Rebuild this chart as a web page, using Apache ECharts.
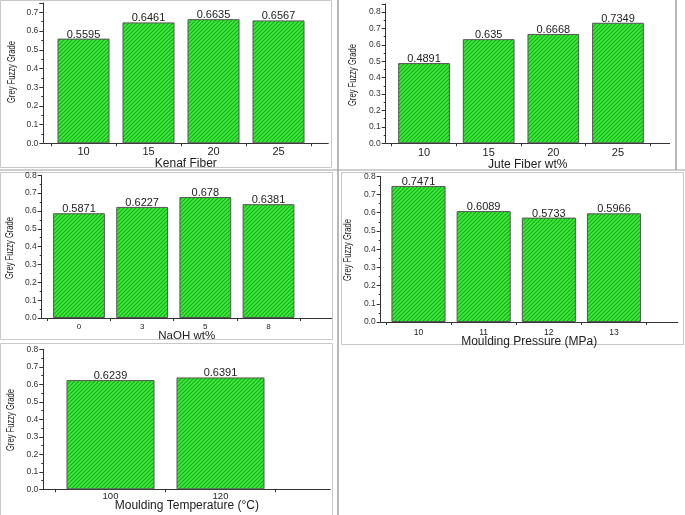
<!DOCTYPE html>
<html><head><meta charset="utf-8">
<script src="https://cdn.jsdelivr.net/npm/echarts@6/dist/echarts.min.js"></script>
<style>html,body{margin:0;padding:0;background:#fff}#c{width:685px;height:515px}</style>
</head><body><div id="c"></div>
<script>
// ---- data ----
const kenafCats = ['10', '15', '20', '25'];
const kenafVals = [0.5595, 0.6461, 0.6635, 0.6567];
const juteCats = ['10', '15', '20', '25'];
const juteVals = [0.4891, 0.635, 0.6668, 0.7349];
const naohCats = ['0', '3', '5', '8'];
const naohVals = [0.5871, 0.6227, 0.678, 0.6381];
const pressureCats = ['10', '11', '12', '13'];
const pressureVals = [0.7471, 0.6089, 0.5733, 0.5966];
const tempCats = ['100', '120'];
const tempVals = [0.6239, 0.6391];
const yTitle = 'Grey Fuzzy Grade';
const xTitles = ['Kenaf Fiber', 'Jute Fiber wt%', 'NaOH wt%', 'Moulding Pressure (MPa)', 'Moulding Temperature (\u00B0C)'];
const yMaxes = [0.75, 0.85, 0.8, 0.8, 0.8];

// ---- layout (px) ----
const panels = [
  {cats: kenafCats, vals: kenafVals, fl: 43.3, fb: 143.3, fw: 285, unit: 187.1, bl: 51, bw: 260, gap: '20%', xl: 11, xm: 3, ng: 14, tf: 12, yx: 12, yy: 72},
  {cats: juteCats, vals: juteVals, fl: 385.7, fb: 143.3, fw: 284, unit: 164, bl: 391.7, bw: 258.6, gap: '20%', xl: 11, xm: 4, ng: 15, tf: 12, yx: 353.5, yy: 75},
  {cats: naohCats, vals: naohVals, fl: 41.7, fb: 318, fw: 290, unit: 178.4, bl: 47.4, bw: 252.7, gap: '18%', xl: 8, xm: 5, ng: 11.5, tf: 11.5, yx: 10.5, yy: 248},
  {cats: pressureCats, vals: pressureVals, fl: 380.7, fb: 322, fw: 297, unit: 182.1, bl: 385.9, bw: 260.7, gap: '17%', xl: 8.5, xm: 6, ng: 14, tf: 12, yx: 348.5, yy: 250},
  {cats: tempCats, vals: tempVals, fl: 43.3, fb: 489.3, fw: 287, unit: 175, bl: 55.5, bw: 220, gap: '20%', xl: 9.5, xm: 2, ng: 10, tf: 12, yx: 11.5, yy: 420}
];

// hatch pattern
function makePattern() {
  const s = 4;
  const cv = document.createElement('canvas');
  cv.width = s; cv.height = s;
  const ctx = cv.getContext('2d');
  ctx.fillStyle = '#38ee38';
  ctx.fillRect(0, 0, s, s);
  ctx.strokeStyle = '#20a520';
  ctx.lineWidth = 1.1;
  ctx.beginPath();
  ctx.moveTo(-1, s + 1); ctx.lineTo(s + 1, -1);
  ctx.moveTo(-1, 1); ctx.lineTo(1, -1);
  ctx.moveTo(s - 1, s + 1); ctx.lineTo(s + 1, s - 1);
  ctx.stroke();
  return cv;
}
const pattern = {image: makePattern(), repeat: 'repeat'};

const FONT = 'Liberation Sans, Arial, sans-serif';
const grids = [], xAxes = [], yAxes = [], series = [];
const graphic = [];
panels.forEach((p, i) => {
  const yMax = yMaxes[i];
  const h = yMax * p.unit;
  const top = p.fb - h;
  grids.push({left: p.fl, top: top, width: p.fw, height: h});
  grids.push({left: p.bl, top: top, width: p.bw, height: h});
  xAxes.push({
    type: 'value', gridIndex: 2 * i, min: 0, max: 1,
    axisLine: {show: true, lineStyle: {color: '#333', width: 1}},
    axisTick: {show: false}, axisLabel: {show: false}, splitLine: {show: false},
    name: xTitles[i], nameLocation: 'middle', nameGap: p.ng,
    nameTextStyle: {fontFamily: FONT, fontSize: p.tf, color: '#222'}
  });
  xAxes.push({
    type: 'category', gridIndex: 2 * i + 1, data: p.cats, boundaryGap: true,
    axisLine: {show: false},
    axisTick: {show: true, length: 3, lineStyle: {color: '#333'}},
    axisLabel: {fontFamily: FONT, fontSize: p.xl, color: '#222', margin: p.xm}
  });
  yAxes.push({
    type: 'value', gridIndex: 2 * i, min: 0, max: yMax, interval: 0.1,
    axisLine: {show: true, lineStyle: {color: '#333', width: 1}},
    axisTick: {show: true, length: 4, lineStyle: {color: '#333'}},
    minorTick: {show: true, splitNumber: 2, length: 2, lineStyle: {color: '#333'}},
    splitLine: {show: false}, minorSplitLine: {show: false},
    axisLabel: {
      fontFamily: FONT, fontSize: 8.5, color: '#333', margin: 5,
      formatter: v => (Math.abs(v * 10 - Math.round(v * 10)) < 1e-6 ? v.toFixed(1) : '')
    }
  });
  yAxes.push({type: 'value', gridIndex: 2 * i + 1, min: 0, max: yMax, show: false});
  series.push({
    type: 'bar', xAxisIndex: 2 * i + 1, yAxisIndex: 2 * i + 1,
    data: p.vals, barCategoryGap: p.gap,
    itemStyle: {color: pattern, borderColor: '#555', borderWidth: 1},
    label: {show: true, position: 'top', distance: -1.5, fontFamily: FONT, fontSize: 11, color: '#222',
      formatter: q => String(q.value)},
    silent: true
  });
  // narrow rotated y-axis title
  graphic.push({
    type: 'text', x: p.yx, y: p.yy, rotation: Math.PI / 2, scaleX: 0.76, scaleY: 1,
    style: {text: yTitle, fontFamily: FONT, fontSize: 10, fill: '#222', align: 'center', verticalAlign: 'middle'}
  });
});

const border = '#c8c8c8', dark = '#a0a0a0';
graphic.push(
  {type: 'rect', shape: {x: 0.5, y: 0.5, width: 331, height: 167}, style: {fill: 'none', stroke: border, lineWidth: 1}},
  {type: 'rect', shape: {x: 0.5, y: 172.5, width: 332, height: 167}, style: {fill: 'none', stroke: border, lineWidth: 1}},
  {type: 'rect', shape: {x: 0.5, y: 343.5, width: 332, height: 175}, style: {fill: 'none', stroke: border, lineWidth: 1}},
  {type: 'rect', shape: {x: 341.5, y: 172.5, width: 342, height: 172}, style: {fill: 'none', stroke: border, lineWidth: 1}},
  {type: 'line', shape: {x1: 338, y1: 0, x2: 338, y2: 515}, style: {stroke: dark, lineWidth: 1.5}},
  {type: 'line', shape: {x1: 0, y1: 170, x2: 685, y2: 170}, style: {stroke: dark, lineWidth: 1.2}},
  {type: 'line', shape: {x1: 676, y1: 0, x2: 676, y2: 170}, style: {stroke: dark, lineWidth: 1.5}}
);

const chart = echarts.init(document.getElementById('c'), null, {renderer: 'canvas'});
chart.setOption({
  backgroundColor: '#fff', animation: false,
  grid: grids, xAxis: xAxes, yAxis: yAxes, series: series, graphic: graphic
});
</script></body></html>
